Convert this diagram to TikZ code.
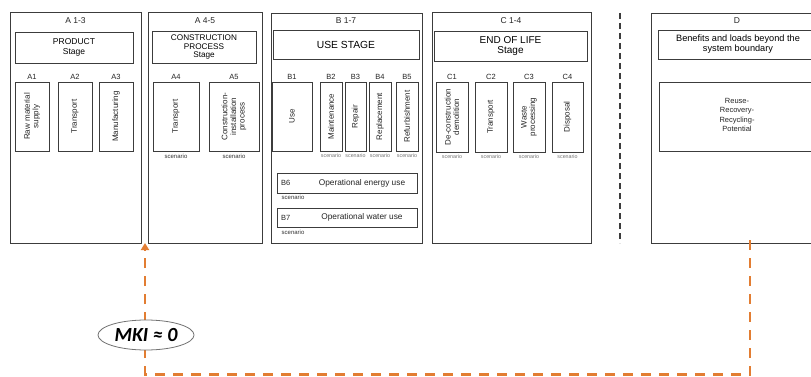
\documentclass[tikz,border=0pt]{standalone}
\usepackage{fontspec}
\setmainfont{Liberation Sans}
\newfontfamily\mkifont{Carlito}
\usetikzlibrary{shapes.geometric,arrows.meta}
\definecolor{lcaorange}{RGB}{226,125,50}
\definecolor{boxline}{RGB}{60,60,60}
\tikzset{
  box/.style={draw=boxline, line width=0.9pt, inner sep=0pt, outer sep=0pt, anchor=north west, align=center},
  outerbox/.style={box, line width=1pt},
  ttl/.style={font=\fontsize{8.5}{9}\selectfont, inner sep=0pt, text=black!85},
  modlbl/.style={font=\fontsize{7.5}{8}\selectfont, inner sep=0pt, text=black!85},
  vtext/.style={rotate=90, font=\fontsize{8}{8.6}\selectfont, align=center, inner sep=0pt, text=black!85},
  scen/.style={font=\fontsize{6}{6.5}\selectfont, inner sep=0pt, text=black!80},
  tinyscen/.style={font=\fontsize{5.3}{5.5}\selectfont, inner sep=0pt, text=black!55},
  flow/.style={draw=lcaorange, line width=2.6pt, dash pattern=on 10pt off 8pt},
}
\begin{document}
\begin{tikzpicture}[x=1pt,y=-1pt]
\useasboundingbox (0,0) rectangle (811,377);
\clip (0,0) rectangle (811,377);
\fill[white] (0,0) rectangle (811,377);
% outer boxes
\node[outerbox, minimum width=131pt, minimum height=230pt] (A) at (10,13) {};
\node[outerbox, minimum width=114pt, minimum height=230pt] (AB) at (148,13) {};
\node[outerbox, minimum width=151pt, minimum height=229pt] (B) at (271,14) {};
\node[outerbox, minimum width=159pt, minimum height=230pt] (C) at (432,13) {};
\node[outerbox, minimum width=180pt, minimum height=229pt] (D) at (651,14) {};
% titles
\node[ttl] (tA) at (75.5,21) {A 1-3};
\node[ttl] (tAB) at (205,21) {A 4-5};
\node[ttl] (tB) at (346,20.5) {B 1-7};
\node[ttl] (tC) at (511,20.5) {C 1-4};
\node[ttl] (tD) at (737,20.5) {D};
% stage boxes
\node[box, minimum width=118pt, minimum height=31pt, font=\fontsize{8.5}{9.5}\selectfont] (prod) at (15,32) {PRODUCT\\Stage};
\node[box, minimum width=104pt, minimum height=32pt, font=\fontsize{8.2}{8.6}\selectfont] (cons) at (152,31) {CONSTRUCTION\\PROCESS\\Stage};
\node[box, minimum width=146pt, minimum height=29pt, font=\fontsize{10.3}{11}\selectfont] (use) at (273,30) {USE STAGE};
\node[box, minimum width=153pt, minimum height=30pt, font=\fontsize{10}{10.5}\selectfont] (eol) at (434,31) {END OF LIFE\\Stage};
\node[box, minimum width=160pt, minimum height=29pt, font=\fontsize{9.2}{9.8}\selectfont] (ben) at (658,30) {Benefits and loads beyond the\\system boundary};
% module boxes
\node[box, minimum width=34pt, minimum height=69pt] (A1) at (15,82) {};
\node[box, minimum width=34pt, minimum height=69pt] (A2) at (58,82) {};
\node[box, minimum width=34pt, minimum height=69pt] (A3) at (99,82) {};
\node[box, minimum width=46pt, minimum height=69pt] (A4) at (153,82) {};
\node[box, minimum width=50pt, minimum height=69pt] (A5) at (209,82) {};
\node[box, minimum width=40pt, minimum height=69pt] (B1) at (272,82) {};
\node[box, minimum width=22pt, minimum height=69pt] (B2) at (320,82) {};
\node[box, minimum width=21pt, minimum height=69pt] (B3) at (345,82) {};
\node[box, minimum width=22pt, minimum height=69pt] (B4) at (369,82) {};
\node[box, minimum width=22pt, minimum height=69pt] (B5) at (396,82) {};
\node[box, minimum width=32pt, minimum height=70pt] (C1) at (436,82) {};
\node[box, minimum width=32pt, minimum height=70pt] (C2) at (475,82) {};
\node[box, minimum width=32pt, minimum height=70pt] (C3) at (513,82) {};
\node[box, minimum width=31pt, minimum height=70pt] (C4) at (552,82) {};
\node[box, minimum width=160pt, minimum height=69pt] (reuse) at (659,82) {};
\node[font=\fontsize{7.5}{9.5}\selectfont, align=center, inner sep=0pt, text=black!85] (reuset) at (737,115) {Reuse-\\Recovery-\\Recycling-\\Potential};
% vertical texts
\node[vtext] (vA1) at (A1.center) {Raw material\\supply};
\node[vtext] (vA2) at (A2.center) {Transport};
\node[vtext] (vA3) at (A3.center) {Manufacturing};
\node[vtext] (vA4) at (A4.center) {Transport};
\node[vtext] (vA5) at (A5.center) {Construction-\\installation\\process};
\node[vtext] (vB1) at (B1.center) {Use};
\node[vtext] (vB2) at (B2.center) {Maintenance};
\node[vtext] (vB3) at (B3.center) {Repair};
\node[vtext] (vB4) at (B4.center) {Replacement};
\node[vtext] (vB5) at (B5.center) {Refurbishment};
\node[vtext] (vC1) at (C1.center) {De-construction\\demolition};
\node[vtext] (vC2) at (C2.center) {Transport};
\node[vtext] (vC3) at (C3.center) {Waste\\processing};
\node[vtext] (vC4) at (C4.center) {Disposal};
% module labels
\foreach \n in {A1,A2,A3,A4,A5,B1,B2,B3,B4,B5,C1,C2,C3,C4}{
  \node[modlbl, above=2pt] (l\n) at (\n.north) {\n};
}
% scenario labels
\node[scen, below=3pt] (sA4) at (A4.south) {scenario};
\node[scen, below=3pt] (sA5) at (A5.south) {scenario};
\foreach \n in {B2,B3,B4,B5,C1,C2,C3,C4}{
  \node[tinyscen, below=2.5pt] (s\n) at (\n.south) {scenario};
}
% B6, B7
\node[box, minimum width=140pt, minimum height=20pt] (B6) at (277,173) {};
\node[modlbl, anchor=west] (lB6) at (281,183) {B6};
\node[font=\fontsize{8.3}{9}\selectfont, inner sep=0pt, text=black!85] (tB6) at (362,183) {Operational energy use};
\node[scen] (sB6) at (293,197.5) {scenario};
\node[box, minimum width=140pt, minimum height=19pt] (B7) at (277,208) {};
\node[modlbl, anchor=west] (lB7) at (281,217.5) {B7};
\node[font=\fontsize{8.3}{9}\selectfont, inner sep=0pt, text=black!85] (tB7) at (362,217.5) {Operational water use};
\node[scen] (sB7) at (293,232) {scenario};
% system boundary
\draw[draw=boxline, line width=1.3pt, dash pattern=on 6pt off 4pt] (620,13) -- (620,243);
% orange loop
\coordinate (from) at (750,240);
\coordinate (to) at (145,243);
\coordinate (corner) at (750,374.5);
\draw[flow, -{Triangle[length=7pt,width=8pt]}] (from) -- (corner) -| (to);
\node[ellipse, draw=black!55, line width=0.8pt, fill=white, minimum width=96pt, minimum height=30pt, inner sep=0pt, font=\mkifont\bfseries\itshape\fontsize{20}{21}\selectfont] (mki) at (146,335) {MKI ≈ 0};
\end{tikzpicture}
\end{document}
